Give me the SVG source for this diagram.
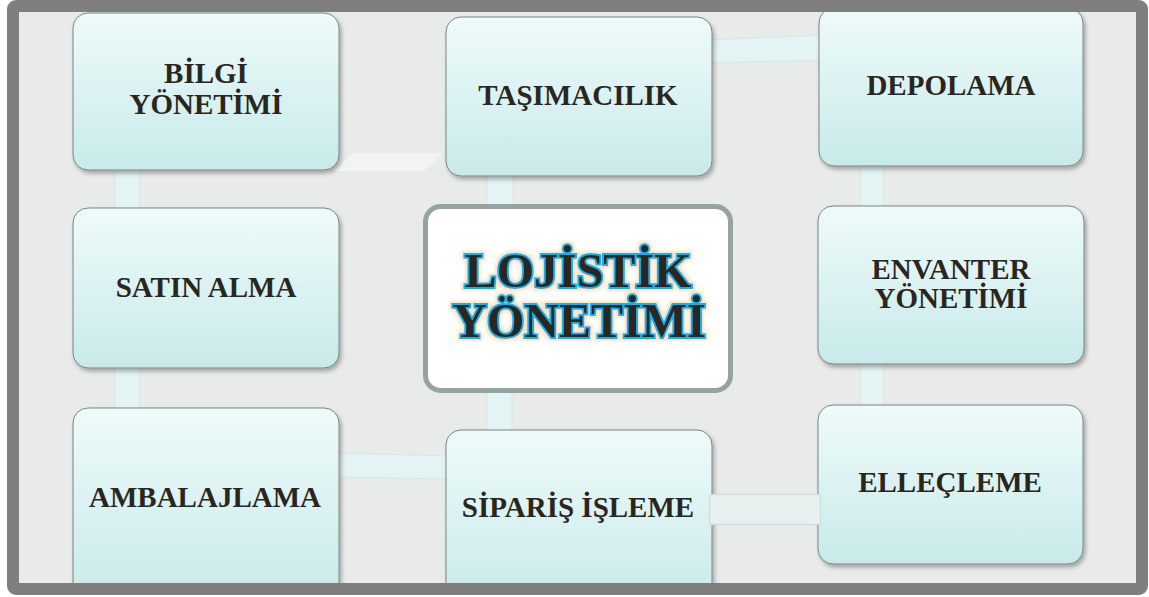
<svg xmlns="http://www.w3.org/2000/svg" width="1149" height="597" viewBox="0 0 1149 597">
<style>
.box{fill:url(#bg);stroke:#788585;stroke-width:1;filter:url(#sh)}
.lbl{font-family:"Liberation Serif","Times New Roman",serif;font-weight:bold;font-size:29px;fill:#2a261e;text-anchor:middle}
.bar{fill:#e4f4f4;stroke:#d3e3e3;stroke-width:0.8}
.title{font-family:"Liberation Serif","Times New Roman",serif;font-weight:bold;font-size:48px;fill:#2b2820;stroke:#14b1ec;stroke-width:4;paint-order:stroke;text-anchor:middle}
</style>
<defs>
<linearGradient id="bg" x1="0" y1="0" x2="0" y2="1">
<stop offset="0" stop-color="#effafa"/>
<stop offset="1" stop-color="#c8eaea"/>
</linearGradient>
<filter id="sh" x="-10%" y="-10%" width="125%" height="130%">
<feDropShadow dx="2" dy="3" stdDeviation="2" flood-color="#000" flood-opacity="0.3"/>
</filter>
<filter id="glow" x="-10%" y="-30%" width="120%" height="160%">
<feMorphology in="SourceAlpha" operator="dilate" radius="2" result="d"/>
<feGaussianBlur in="d" stdDeviation="1.5" result="b"/>
<feFlood flood-color="#f8d09a" flood-opacity="0.6"/>
<feComposite in2="b" operator="in" result="g"/>
<feMerge><feMergeNode in="g"/><feMergeNode in="SourceGraphic"/></feMerge>
</filter>
<clipPath id="inner"><rect x="19" y="12" width="1117" height="571"/></clipPath>
</defs>
<rect x="0" y="0" width="1149" height="597" fill="#ffffff"/>
<rect x="19" y="12" width="1117" height="571" fill="#e9eaea"/>
<g clip-path="url(#inner)">
<g id="connectors">
<polygon points="353,153 443,153 424,171 333,171" fill="#f3f5f5" opacity="0.85"/>
<rect class="bar" x="115" y="165" width="25" height="48"/>
<rect class="bar" x="115" y="363" width="25" height="50"/>
<rect class="bar" x="487" y="171" width="26" height="38"/>
<rect class="bar" x="487" y="388" width="25" height="47"/>
<rect class="bar" x="860" y="161" width="24" height="50"/>
<rect class="bar" x="860" y="359" width="24" height="51"/>
<polygon class="bar" points="705,40 825,35 825,60 705,63"/>
<polygon class="bar" points="332,453 452,456 452,479 332,477"/>
</g>
<g id="n-bilgi"><rect class="box" x="73" y="13" width="266" height="157" rx="15"/>
<text class="lbl" x="206" y="83">BİLGİ</text><text class="lbl" x="206" y="114">YÖNETİMİ</text></g>
<g id="n-tasimacilik"><rect class="box" x="446" y="17" width="266" height="159" rx="15"/>
<text class="lbl" x="578" y="105">TAŞIMACILIK</text></g>
<g id="n-depolama"><rect class="box" x="819" y="8" width="264" height="158" rx="15"/>
<text class="lbl" x="951" y="95">DEPOLAMA</text></g>
<g id="n-satinalma"><rect class="box" x="73" y="208" width="266" height="160" rx="15"/>
<text class="lbl" x="206" y="297">SATIN ALMA</text></g>
<g id="n-envanter"><rect class="box" x="818" y="206" width="266" height="158" rx="15"/>
<text class="lbl" x="951" y="279">ENVANTER</text><text class="lbl" x="951" y="308">YÖNETİMİ</text></g>
<g id="n-ambalajlama"><rect class="box" x="73" y="408" width="266" height="190" rx="15"/>
<text class="lbl" x="205" y="507">AMBALAJLAMA</text></g>
<g id="n-siparis"><rect class="box" x="446" y="430" width="266" height="175" rx="15"/>
<text class="lbl" x="578" y="517">SİPARİŞ İŞLEME</text></g>
<g id="n-ellecleme"><rect class="box" x="818" y="405" width="265" height="159" rx="15"/>
<text class="lbl" x="950" y="492">ELLEÇLEME</text></g>
<g id="connectors-top">
<rect x="709.5" y="494.5" width="111" height="30" fill="#e8efef" stroke="#c9dede" stroke-width="1.2"/>
</g>
<g id="n-lojistik">
<rect x="425.5" y="206.5" width="305" height="184" rx="15" fill="#ffffff" stroke="#96a49f" stroke-width="5"/>
<g filter="url(#glow)">
<text class="title" x="578" y="287">LOJİSTİK</text>
<text class="title" x="579" y="337">YÖNETİMİ</text>
</g>
</g>
</g>
<rect x="13" y="6" width="1129" height="583" rx="3" fill="none" stroke="#7f7f7f" stroke-width="12"/>
</svg>
